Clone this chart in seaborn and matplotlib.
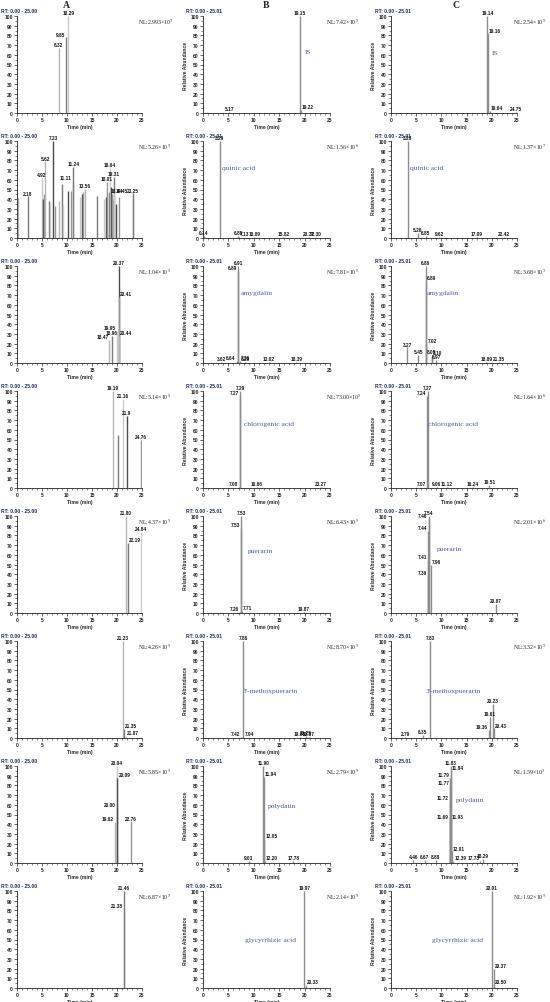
import matplotlib
matplotlib.use('Agg')
import matplotlib.pyplot as plt
from matplotlib.ticker import MultipleLocator
import seaborn as sns

# ---- data: retention times (min), relative heights (%), peak labels ----
# row 1
A1_RT = [8.32, 9.85, 10.29]
A1_H = [67, 78, 100]
A1_LAB = ["8.32", "9.85", "10.29"]
B1_RT = [5.17, 19.15, 19.22]
B1_H = [1, 100, 3]
B1_LAB = ["5.17", "19.15", "19.22"]
C1_RT = [19.14, 19.16, 19.64, 24.75]
C1_H = [100, 82, 2, 1]
C1_LAB = ["19.14", "19.16", "19.64", "24.75"]
# row 2
A2_RT = [0.1, 2.18, 4.92, 5.1, 5.3, 5.62, 6.4, 6.6, 7.23, 7.5, 8.3, 8.9, 9.2,
         10.2, 10.7, 11.11, 11.24, 12.5, 12.9, 13.2, 13.56, 16.0, 17.4, 17.7,
         18.01, 18.3, 18.44, 18.64, 18.8, 19.0, 19.2, 19.31, 19.45, 19.7, 20.3,
         23.1, 23.25]
A2_H = [42, 43, 62, 40, 45, 79, 38, 37, 100, 33, 38, 56, 34, 48, 48, 59, 73,
        42, 45, 47, 51, 43, 40, 42, 58, 47, 46, 72, 53, 45, 40, 63, 46, 35, 42,
        41, 46]
A2_LAB = ["", "2.18", "4.92", "", "", "5.62", "", "", "7.23", "", "", "", "",
          "", "", "11.11", "11.24", "", "", "", "13.56", "", "", "", "18.01",
          "", "18.44", "18.64", "", "", "", "19.31", "19.45", "", "", "",
          "23.25"]
B2_RT = [0.14, 3.29, 6.89, 7.13, 10.09, 15.82, 20.77, 22.30]
B2_H = [2, 100, 2, 1, 1, 1, 1, 1]
B2_LAB = ["0.14", "3.29", "6.89", "7.13", "10.09", "15.82", "20.77", "22.30"]
C2_RT = [3.28, 5.26, 6.85, 9.62, 17.09, 22.42]
C2_H = [100, 5, 2, 1, 1, 1]
C2_LAB = ["3.28", "5.26", "6.85", "9.62", "17.09", "22.42"]
# row 3
A3_RT = [18.47, 18.96, 19.95, 20.37, 20.41, 20.44]
A3_H = [24, 28, 33, 100, 68, 28]
A3_LAB = ["18.47", "18.96", "19.95", "20.37", "20.41", "20.44"]
B3_RT = [3.62, 6.64, 6.89, 6.91, 7.26, 8.29, 13.02, 18.39]
B3_H = [1, 2, 95, 100, 2, 1, 1, 1]
B3_LAB = ["3.62", "6.64", "6.89", "6.91", "7.26", "8.29", "13.02", "18.39"]
C3_RT = [3.27, 5.45, 6.86, 6.89, 7.02, 8.05, 8.10, 8.97, 18.89, 21.35]
C3_H = [16, 8, 100, 85, 20, 8, 7, 3, 1, 1]
C3_LAB = ["3.27", "5.45", "6.86", "6.89", "7.02", "8.05", "8.10", "8.97",
          "18.89", "21.35"]
# row 4
A4_RT = [19.19, 20.2, 21.16, 21.9, 24.76]
A4_H = [100, 55, 92, 74, 50]
A4_LAB = ["19.19", "", "21.16", "21.9", "24.76"]
B4_RT = [7.08, 7.27, 7.29, 10.66, 23.27]
B4_H = [1, 95, 100, 1, 1]
B4_LAB = ["7.08", "7.27", "7.29", "10.66", "23.27"]
C4_RT = [7.07, 7.24, 7.27, 9.06, 11.12, 16.24, 19.51]
C4_H = [1, 95, 100, 1, 1, 1, 3]
C4_LAB = ["7.07", "7.24", "7.27", "9.06", "11.12", "16.24", "19.51"]
# row 5
A5_RT = [21.80, 22.19, 24.84]
A5_H = [100, 72, 84]
A5_LAB = ["21.80", "22.19", "24.84"]
B5_RT = [7.26, 7.50, 7.53, 7.71, 19.87]
B5_H = [1, 88, 100, 2, 1]
B5_LAB = ["7.26", "7.53", "7.53", "7.71", "19.87"]
C5_RT = [7.36, 7.41, 7.44, 7.46, 7.54, 7.96, 20.87]
C5_H = [38, 55, 85, 97, 100, 50, 9]
C5_LAB = ["7.36", "7.41", "7.44", "7.46", "7.54", "7.96", "20.87"]
# row 6
A6_RT = [21.23, 21.35, 21.87]
A6_H = [100, 9, 2]
A6_LAB = ["21.23", "21.35", "21.87"]
B6_RT = [7.42, 7.86, 7.94, 19.05, 20.25, 20.87]
B6_H = [1, 100, 1, 1, 2, 1]
B6_LAB = ["7.42", "7.86", "7.94", "19.05", "20.25", "20.87"]
C6_RT = [2.79, 6.35, 7.83, 19.36, 19.61, 20.23, 20.43]
C6_H = [1, 3, 100, 8, 22, 35, 10]
C6_LAB = ["2.79", "6.35", "7.83", "19.36", "19.61", "20.23", "20.43"]
# row 7
A7_RT = [19.62, 20.00, 20.04, 20.09, 22.76]
A7_H = [42, 57, 100, 88, 43]
A7_LAB = ["19.62", "20.00", "20.04", "20.09", "22.76"]
B7_RT = [9.03, 11.90, 11.94, 12.05, 12.20, 17.78]
B7_H = [2, 100, 89, 25, 2, 2]
B7_LAB = ["9.03", "11.90", "11.94", "12.05", "12.20", "17.78"]
C7_RT = [4.46, 6.67, 8.88, 11.69, 11.72, 11.77, 11.79, 11.83, 11.84, 11.93,
         12.01, 12.39, 17.73, 18.29]
C7_H = [3, 3, 3, 45, 64, 80, 88, 100, 95, 45, 12, 2, 2, 4]
C7_LAB = ["4.46", "6.67", "8.88", "11.69", "11.72", "11.77", "11.79", "11.83",
          "11.84", "11.93", "12.01", "12.39", "17.73", "18.29"]
# row 8
A8_RT = [21.38, 21.46]
A8_H = [82, 100]
A8_LAB = ["21.38", "21.46"]
B8_RT = [19.97, 20.33]
B8_H = [100, 3]
B8_LAB = ["19.97", "20.33"]
C8_RT = [20.01, 20.37, 20.50]
C8_H = [100, 20, 3]
C8_LAB = ["20.01", "20.37", "20.50"]

NL_A = ["2.993", "5.26", "1.04", "5.14", "4.37", "4.26", "5.85", "6.87"]
NL_A_EXP = [5, 5, 5, 5, 5, 5, 5, 5]
NL_B = ["7.42", "1.56", "7.81", "73.00", "6.43", "8.70", "2.79", "2.14"]
NL_B_EXP = [5, 6, 5, 5, 5, 5, 5, 5]
NL_C = ["2.54", "1.37", "3.68", "1.64", "2.01", "3.32", "1.59", "1.92"]
NL_C_EXP = [5, 7, 5, 6, 6, 5, 5, 5]

RT_RANGE = ["RT: 0.00 - 25.00", "RT: 0.00 - 25.01", "RT: 0.00 - 25.01"]
COLUMNS = ["A", "B", "C"]
COMPOUNDS = ["IS", "quinic acid", "amygdalin", "chlorogenic acid", "puerarin",
             "3'-methoxpuerarin", "polydatin", "glycyrrhizic acid"]
# where the compound names sit (data coords) in columns B and C
NAME_POS_B = [(20.0, 63), (3.7, 73), (7.5, 73), (8.1, 66), (8.9, 64),
              (7.9, 49), (12.8, 59), (8.3, 50)]
NAME_POS_C = [(20.0, 62), (3.8, 73), (7.1, 73), (7.3, 66), (9.1, 66),
              (6.9, 49), (12.9, 65), (8.1, 50)]

PANELS = [
    [(A1_RT, A1_H, A1_LAB), (B1_RT, B1_H, B1_LAB), (C1_RT, C1_H, C1_LAB)],
    [(A2_RT, A2_H, A2_LAB), (B2_RT, B2_H, B2_LAB), (C2_RT, C2_H, C2_LAB)],
    [(A3_RT, A3_H, A3_LAB), (B3_RT, B3_H, B3_LAB), (C3_RT, C3_H, C3_LAB)],
    [(A4_RT, A4_H, A4_LAB), (B4_RT, B4_H, B4_LAB), (C4_RT, C4_H, C4_LAB)],
    [(A5_RT, A5_H, A5_LAB), (B5_RT, B5_H, B5_LAB), (C5_RT, C5_H, C5_LAB)],
    [(A6_RT, A6_H, A6_LAB), (B6_RT, B6_H, B6_LAB), (C6_RT, C6_H, C6_LAB)],
    [(A7_RT, A7_H, A7_LAB), (B7_RT, B7_H, B7_LAB), (C7_RT, C7_H, C7_LAB)],
    [(A8_RT, A8_H, A8_LAB), (B8_RT, B8_H, B8_LAB), (C8_RT, C8_H, C8_LAB)],
]

sns.set_theme(style='ticks')
plt.rcParams['font.family'] = ['Liberation Sans', 'DejaVu Sans']
plt.rcParams['mathtext.fontset'] = 'stix'

W, H = 550, 1003
fig = plt.figure(figsize=(W / 100, H / 100), dpi=100)

col_left = [17, 203, 391]
col_w = [125, 127, 126]
row_top = [17 + 125 * i for i in range(8)]
ax_h = 97

greys = ['#b4b4b4', '#7a7a7a', '#cacaca', '#4a4a4a', '#969696']
name_color = '#4a5aa0'
rt_color = '#1d2b5c'
serif = ['Liberation Serif', 'DejaVu Serif']

nl_vals = [NL_A, NL_B, NL_C]
nl_exps = [NL_A_EXP, NL_B_EXP, NL_C_EXP]

for r in range(8):
    for c in range(3):
        rt, hh, labs = PANELS[r][c]
        ax = fig.add_axes([col_left[c] / W, 1 - (row_top[r] + ax_h) / H,
                           col_w[c] / W, ax_h / H])
        if c == 0:
            cols = [greys[i % len(greys)] for i in range(len(rt))]
        else:
            cols = ['#8c8c8c'] * len(rt)
        ax.vlines(rt, 0, hh, colors=cols, lw=1.0)

        for x, y, lab in zip(rt, hh, labs):
            if not lab:
                continue
            taller = [q for q, g, l in zip(rt, hh, labs)
                      if l and abs(q - x) < 0.6 and g > y]
            if taller:
                if x < taller[0]:
                    ha, xx = 'right', x - 0.2
                else:
                    ha, xx = 'left', x + 0.2
            else:
                ha, xx = 'center', x
            ax.text(xx, y + 0.8, lab, ha=ha, va='bottom', fontsize=3.4,
                    fontweight='bold', color='#111111')

        ax.set_xlim(0, 25)
        ax.set_ylim(0, 100)
        ax.xaxis.set_major_locator(MultipleLocator(5))
        ax.xaxis.set_minor_locator(MultipleLocator(1))
        ax.yaxis.set_major_locator(MultipleLocator(10))
        ax.yaxis.set_minor_locator(MultipleLocator(5))
        ax.tick_params(which='major', length=2, width=0.5, pad=1,
                       labelsize=3.6)
        ax.tick_params(which='minor', length=1.2, width=0.4)
        for lab in ax.get_xticklabels() + ax.get_yticklabels():
            lab.set_fontweight('bold')
        sns.despine(ax=ax)
        for s in ['left', 'bottom']:
            ax.spines[s].set_linewidth(0.6)
            ax.spines[s].set_color('#222222')
        ax.set_xlabel('Time (min)', fontsize=3.6, fontweight='bold',
                      labelpad=1)
        ax.set_ylabel('Relative Abundance', fontsize=3.6, fontweight='bold',
                      labelpad=1.5)

        ax.text(-0.13, 1.035, RT_RANGE[c], transform=ax.transAxes,
                fontsize=3.6, fontweight='bold', color=rt_color, va='bottom')
        ax.text(0.97, 0.995, 'NL:%s×10$^{%d}$' % (nl_vals[c][r], nl_exps[c][r]),
                transform=ax.transAxes, fontsize=4.2, va='top', ha='left',
                family=serif, color='#222222')
        if c > 0:
            px, py = (NAME_POS_B if c == 1 else NAME_POS_C)[r]
            ax.text(px, py, COMPOUNDS[r], fontsize=5.4, color=name_color,
                    va='center', ha='left', family=serif)

for x, t in zip([66, 266, 456], COLUMNS):
    fig.text(x / W, 1 - 5 / H, t, ha='center', va='center', fontsize=7,
             fontweight='bold', family=serif)

fig.savefig('out.png', dpi=100)
